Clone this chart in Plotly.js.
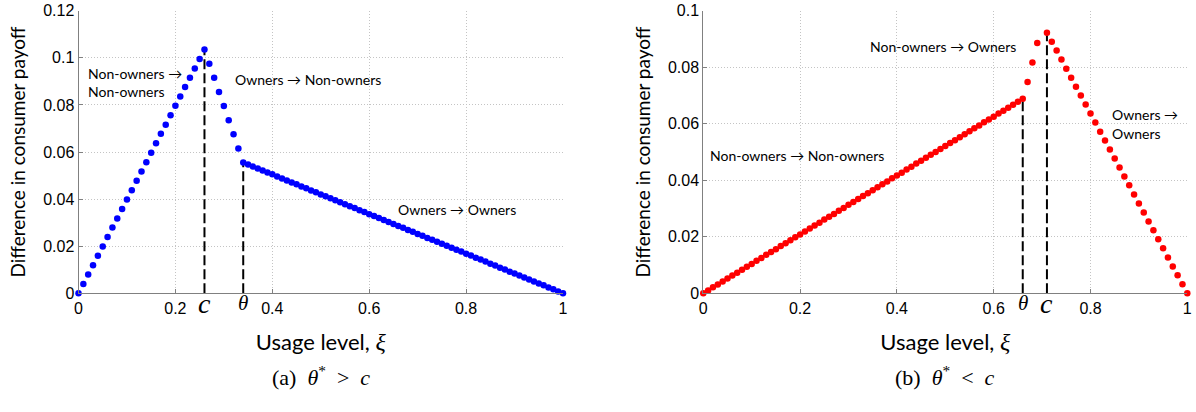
<!DOCTYPE html>
<html>
<head>
<meta charset="utf-8">
<script src="https://cdn.plot.ly/plotly-3.0.1.min.js"></script>
<style>
  html, body { margin: 0; padding: 0; background: #ffffff; }
  #chart { width: 1196px; height: 412px; }
</style>
</head>
<body>
<div id="chart"></div>
<script>
// ---------------- DATA ----------------
// Usage level ξ (shared x grid, step 0.01)
const usage = [
  0.00,0.01,0.02,0.03,0.04,0.05,0.06,0.07,0.08,0.09,
  0.10,0.11,0.12,0.13,0.14,0.15,0.16,0.17,0.18,0.19,
  0.20,0.21,0.22,0.23,0.24,0.25,0.26,0.27,0.28,0.29,
  0.30,0.31,0.32,0.33,0.34,0.35,0.36,0.37,0.38,0.39,
  0.40,0.41,0.42,0.43,0.44,0.45,0.46,0.47,0.48,0.49,
  0.50,0.51,0.52,0.53,0.54,0.55,0.56,0.57,0.58,0.59,
  0.60,0.61,0.62,0.63,0.64,0.65,0.66,0.67,0.68,0.69,
  0.70,0.71,0.72,0.73,0.74,0.75,0.76,0.77,0.78,0.79,
  0.80,0.81,0.82,0.83,0.84,0.85,0.86,0.87,0.88,0.89,
  0.90,0.91,0.92,0.93,0.94,0.95,0.96,0.97,0.98,0.99,
  1.00
];

// (a) θ* > c : difference in consumer payoff (blue)
const payoffA = [
  0.0000,0.0040,0.0080,0.0119,0.0159,0.0199,0.0239,0.0279,0.0318,0.0358,
  0.0398,0.0438,0.0478,0.0517,0.0557,0.0597,0.0637,0.0677,0.0716,0.0756,
  0.0796,0.0836,0.0876,0.0915,0.0955,0.0995,0.1035,0.0975,0.0915,0.0855,
  0.0795,0.0735,0.0675,0.0615,0.0555,0.0547,0.0538,0.0530,0.0521,0.0513,
  0.0505,0.0496,0.0488,0.0479,0.0471,0.0463,0.0454,0.0446,0.0437,0.0429,
  0.0420,0.0412,0.0404,0.0395,0.0387,0.0378,0.0370,0.0362,0.0353,0.0345,
  0.0336,0.0328,0.0320,0.0311,0.0303,0.0294,0.0286,0.0278,0.0269,0.0261,
  0.0252,0.0244,0.0235,0.0227,0.0219,0.0210,0.0202,0.0193,0.0185,0.0177,
  0.0168,0.0160,0.0151,0.0143,0.0135,0.0126,0.0118,0.0109,0.0101,0.0092,
  0.0084,0.0076,0.0067,0.0059,0.0050,0.0042,0.0034,0.0025,0.0017,0.0008,
  0.0000
];

// (b) θ* < c : difference in consumer payoff (red); no point drawn at ξ = 0.70
const payoffB = [
  0.0000,0.0010,0.0021,0.0031,0.0042,0.0052,0.0063,0.0073,0.0083,0.0094,
  0.0104,0.0115,0.0125,0.0136,0.0146,0.0156,0.0167,0.0177,0.0188,0.0198,
  0.0208,0.0219,0.0229,0.0240,0.0250,0.0261,0.0271,0.0281,0.0292,0.0302,
  0.0313,0.0323,0.0334,0.0344,0.0354,0.0365,0.0375,0.0386,0.0396,0.0407,
  0.0417,0.0427,0.0438,0.0448,0.0459,0.0469,0.0480,0.0490,0.0500,0.0511,
  0.0521,0.0532,0.0542,0.0552,0.0563,0.0573,0.0584,0.0594,0.0605,0.0615,
  0.0625,0.0636,0.0646,0.0657,0.0667,0.0678,0.0688,0.0748,0.0817,0.0886,
  null,  0.0922,0.0890,0.0859,0.0827,0.0795,0.0763,0.0731,0.0700,0.0668,
  0.0636,0.0604,0.0572,0.0541,0.0509,0.0477,0.0445,0.0413,0.0382,0.0350,
  0.0318,0.0286,0.0254,0.0223,0.0191,0.0159,0.0127,0.0095,0.0064,0.0032,
  0.0000
];

// Thresholds (c, θ) and payoff at each threshold
const thresholdsA = { c: 0.26, theta: 0.34 };
const thresholdPayoffA = { c: 0.1035, theta: 0.0555 };
const thresholdsB = { theta: 0.66, c: 0.71 };
const thresholdPayoffB = { theta: 0.0688, c: 0.0922 };

const xTicks = [0, 0.2, 0.4, 0.6, 0.8, 1];
const xTickText = ['0', '0.2', '0.4', '0.6', '0.8', '1'];
const yTicksA = [0, 0.02, 0.04, 0.06, 0.08, 0.1, 0.12];
const yTickTextA = ['0', '0.02', '0.04', '0.06', '0.08', '0.1', '0.12'];
const yTicksB = [0, 0.02, 0.04, 0.06, 0.08, 0.1];
const yTickTextB = ['0', '0.02', '0.04', '0.06', '0.08', '0.1'];

const yTitle = 'Difference in consumer payoff';
const xTitle = 'Usage level, <span style="font-family:\'Liberation Serif\',serif;font-style:italic;font-size:24px">ξ</span>';

const regionLabelsA = [
  { text: 'Non-owners →', x: 0.015, y: 0.0935 },
  { text: 'Non-owners', x: 0.015, y: 0.0855 },
  { text: 'Owners → Non-owners', x: 0.318, y: 0.0906 },
  { text: 'Owners → Owners', x: 0.656, y: 0.0354 }
];
const regionLabelsB = [
  { text: 'Non-owners → Non-owners', x: 0.009, y: 0.0489 },
  { text: 'Non-owners → Owners', x: 0.341, y: 0.0872 },
  { text: 'Owners →', x: 0.841, y: 0.0634 },
  { text: 'Owners', x: 0.841, y: 0.0567 }
];
const symbolC = 'c';
const symbolTheta = 'θ';
const captions = ['(a)&nbsp;&nbsp;<i>θ</i><sup>*</sup>&nbsp;&nbsp;&gt;&nbsp;&nbsp;<i>c</i>',
                  '(b)&nbsp;&nbsp;<i>θ</i><sup>*</sup>&nbsp;&nbsp;&lt;&nbsp;&nbsp;<i>c</i>'];

// ---------------- STYLE ----------------
const W = 1196, H = 412;
const plotTop = 10.7, plotBottom = 293.3;
const yDom = [1 - plotBottom / H, 1 - plotTop / H];
const xDomA = [78.5 / W, 563 / W];
const xDomB = [703.3 / W, 1187.3 / W];
const tickFont = { family: 'Liberation Sans, Arial, sans-serif', size: 16, color: '#000000' };
const xTitleFont = { family: 'Lato, sans-serif', size: 22, color: '#000000' };
const yTitleFont = { family: 'Lato, sans-serif', size: 19, color: '#000000' };
const labelFont = { family: 'Lato, sans-serif', size: 14, color: '#000000' };
const dash = { color: '#000000', width: 2, dash: '10px,4px' };
const gridColor = '#c4c4c4';
const gridDash = '1px,2px';

function axisX(domain, anchor) {
  return {
    domain: domain, anchor: anchor, range: [0, 1],
    tickvals: xTicks, ticktext: xTickText, tickfont: tickFont,
    showline: true, linecolor: '#808080', linewidth: 1,
    ticks: 'inside', ticklen: 4, tickcolor: '#808080',
    showgrid: true, gridcolor: gridColor, griddash: gridDash, gridwidth: 1,
    zeroline: false, fixedrange: true,
    title: { text: xTitle, font: xTitleFont, standoff: 19 }
  };
}
function axisY(range, tv, tt, anchor) {
  return {
    domain: yDom, anchor: anchor, range: range,
    tickvals: tv, ticktext: tt, tickfont: tickFont,
    showline: true, linecolor: '#808080', linewidth: 1,
    ticks: 'inside', ticklen: 4, tickcolor: '#808080',
    showgrid: true, gridcolor: gridColor, griddash: gridDash, gridwidth: 1,
    zeroline: false, fixedrange: true,
    title: { text: yTitle, font: yTitleFont, standoff: 12 }
  };
}

function vline(x, y, xa, ya) {
  return { type: 'scatter', mode: 'lines', x: [x, x], y: [0, y], xaxis: xa, yaxis: ya,
           line: dash, hoverinfo: 'skip', showlegend: false, cliponaxis: false };
}

const traces = [
  vline(thresholdsA.c, thresholdPayoffA.c, 'x', 'y'),
  vline(thresholdsA.theta, thresholdPayoffA.theta, 'x', 'y'),
  { type: 'scatter', mode: 'markers', x: usage, y: payoffA, xaxis: 'x', yaxis: 'y',
    marker: { color: '#0000ff', size: 6.5 }, showlegend: false, cliponaxis: false },
  vline(thresholdsB.theta, thresholdPayoffB.theta, 'x2', 'y2'),
  vline(thresholdsB.c, thresholdPayoffB.c, 'x2', 'y2'),
  { type: 'scatter', mode: 'markers', x: usage, y: payoffB, xaxis: 'x2', yaxis: 'y2',
    marker: { color: '#ff0000', size: 6.5 }, showlegend: false, cliponaxis: false }
];

const annotations = [];
regionLabelsA.forEach(l => annotations.push({ text: l.text, x: l.x, y: l.y, xref: 'x', yref: 'y',
  xanchor: 'left', yanchor: 'middle', showarrow: false, align: 'left', font: labelFont }));
regionLabelsB.forEach(l => annotations.push({ text: l.text, x: l.x, y: l.y, xref: 'x2', yref: 'y2',
  xanchor: 'left', yanchor: 'middle', showarrow: false, align: 'left', font: labelFont }));

// italic threshold symbols placed along the x axis, under each dashed line
const symY = 1 - 303 / H;
const symFontC = { family: 'Liberation Serif, serif', size: 28, color: '#000000', style: 'italic' };
const symFontT = { family: 'Liberation Serif, serif', size: 21, color: '#000000', style: 'italic' };
[[thresholdsA.c, 'x', symbolC, symFontC], [thresholdsA.theta, 'x', symbolTheta, symFontT],
 [thresholdsB.theta, 'x2', symbolTheta, symFontT], [thresholdsB.c, 'x2', symbolC, symFontC]]
 .forEach(s => annotations.push({ text: s[2], x: s[0], xref: s[1], y: symY, yref: 'paper',
   xanchor: 'center', yanchor: 'middle', showarrow: false, font: s[3] }));

const capFont = { family: 'Liberation Serif, serif', size: 22, color: '#000000' };
annotations.push({ text: captions[0], x: (xDomA[0] + xDomA[1]) / 2, y: 1 - 376 / H, xref: 'paper', yref: 'paper',
  xanchor: 'center', yanchor: 'middle', showarrow: false, font: capFont });
annotations.push({ text: captions[1], x: (xDomB[0] + xDomB[1]) / 2, y: 1 - 376 / H, xref: 'paper', yref: 'paper',
  xanchor: 'center', yanchor: 'middle', showarrow: false, font: capFont });

const layout = {
  width: W, height: H,
  margin: { l: 0, r: 0, t: 0, b: 0 },
  paper_bgcolor: '#ffffff', plot_bgcolor: '#ffffff',
  showlegend: false,
  xaxis: axisX(xDomA, 'y'),
  yaxis: axisY([0, 0.12], yTicksA, yTickTextA, 'x'),
  xaxis2: axisX(xDomB, 'y2'),
  yaxis2: axisY([0, 0.1], yTicksB, yTickTextB, 'x2'),
  annotations: annotations
};

Plotly.newPlot('chart', traces, layout, { staticPlot: true, displayModeBar: false });
</script>
</body>
</html>
